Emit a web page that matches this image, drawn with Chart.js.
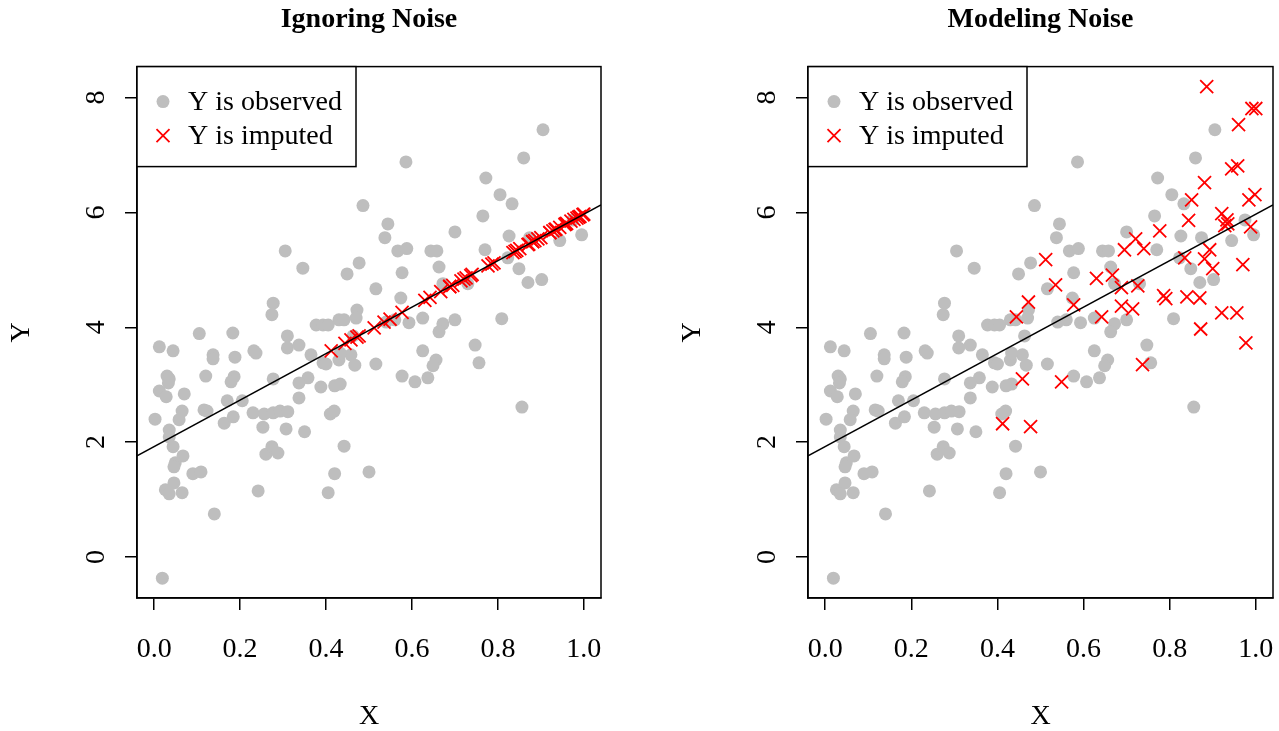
<!DOCTYPE html>
<html>
<head>
<meta charset="utf-8">
<script src="https://cdn.jsdelivr.net/npm/chart.js"></script>
<style>
  html, body { margin: 0; padding: 0; background: #fff; overflow: hidden; }
  #wrap { position: relative; width: 1279px; height: 731px; }
  #left { position: absolute; left: 0; top: 0; }
  #right { position: absolute; left: 671px; top: 0; }
</style>
</head>
<body>
<div id="wrap">
  <canvas id="left" width="640" height="731"></canvas>
  <canvas id="right" width="608" height="731"></canvas>
</div>
<script>
// observed points (same in both panels)
const obsX = [0.002,0.012,0.044,0.105,0.183,0.31,0.31,0.137,0.137,0.188,
  0.232,0.237,0.03,0.035,0.033,0.12,0.186,0.179,0.012,0.028,
  0.07,0.277,0.17,0.205,0.065,0.058,0.116,0.123,0.163,0.184,
  0.23,0.256,0.277,0.293,0.311,0.253,0.307,0.035,0.035,0.044,
  0.067,0.049,0.046,0.09,0.109,0.046,0.026,0.035,0.065,0.26,
  0.274,0.288,0.242,0.14,0.019,0.305,0.277,0.274,0.586,0.486,
  0.544,0.537,0.567,0.588,0.644,0.658,0.346,0.477,0.449,0.577,
  0.663,0.70,0.516,0.574,0.472,0.47,0.43,0.442,0.377,0.393,
  0.405,0.593,0.625,0.672,0.663,0.70,0.905,0.86,0.772,0.805,
  0.833,0.765,0.826,0.77,0.874,0.944,0.995,0.823,0.849,0.87,
  0.902,0.73,0.809,0.337,0.365,0.393,0.40,0.43,0.458,0.467,
  0.516,0.625,0.656,0.649,0.577,0.607,0.637,0.358,0.337,0.388,
  0.42,0.433,0.337,0.41,0.419,0.35,0.442,0.42,0.50,0.405,
  0.747,0.756,0.856,0.463,0.433,0.54,0.56,0.975,0.672];
const obsY = [2.40,3.66,3.59,3.89,3.90,3.85,3.64,3.52,3.45,3.48,
  3.59,3.55,3.15,3.10,3.03,3.15,3.14,3.05,2.89,2.79,
  2.84,3.10,2.72,2.72,2.54,2.39,2.56,2.54,2.33,2.44,
  2.51,2.49,2.51,2.54,2.53,2.26,2.23,2.21,2.09,1.92,
  1.76,1.64,1.57,1.45,1.48,1.29,1.17,1.10,1.12,1.79,
  1.92,1.81,1.15,0.75,-0.37,5.33,4.42,4.22,6.88,6.12,
  5.80,5.56,5.33,5.37,5.33,5.33,5.03,5.12,4.93,4.95,
  5.05,5.66,4.67,4.51,4.30,4.16,4.13,4.13,4.04,4.04,
  4.04,4.08,4.16,4.06,3.92,4.13,7.44,6.95,6.60,6.31,
  6.15,5.94,5.59,5.35,5.56,5.51,5.61,5.21,5.02,4.78,
  4.83,4.76,4.15,3.69,3.52,3.38,3.36,3.43,3.52,3.34,
  3.36,3.59,3.43,3.33,3.15,3.05,3.12,3.12,3.03,2.96,
  2.98,3.01,2.77,2.49,2.54,2.18,1.93,1.45,1.48,1.12,
  3.69,3.38,2.61,3.85,3.55,4.09,4.13,5.87,4.76];

// imputed points: x, then y with noise (right) and y on the fit (left)
const impX = [0.512,0.535,0.472,0.444,0.577,0.63,0.667,0.642,0.886,0.991,
  1.0,0.96,0.944,0.958,0.881,0.851,0.984,0.998,0.844,0.777,
  0.921,0.933,0.935,0.928,0.988,0.721,0.695,0.74,0.893,0.835,
  0.881,0.90,0.97,0.688,0.726,0.786,0.791,0.84,0.87,0.688,
  0.714,0.921,0.956,0.872,0.977,0.737,0.458,0.549,0.412,0.477];
const impYNoise = [5.18,4.74,4.44,4.18,4.39,4.85,4.91,4.18,8.19,7.81,
  7.81,7.53,6.76,6.81,6.52,6.22,6.22,6.31,5.86,5.68,
  5.98,5.87,5.80,5.77,5.75,5.54,5.35,5.37,5.35,5.21,
  5.19,5.02,5.09,4.69,4.72,4.55,4.50,4.53,4.51,4.37,
  4.32,4.25,4.25,3.97,3.73,3.35,3.10,3.05,2.32,2.27];
const impYFit = [3.99,4.09,3.83,3.72,4.26,4.47,4.62,4.52,5.51,5.93,
  5.97,5.81,5.74,5.80,5.49,5.37,5.90,5.96,5.34,5.07,
  5.65,5.70,5.71,5.68,5.92,4.84,4.73,4.92,5.54,5.30,
  5.49,5.56,5.85,4.71,4.86,5.10,5.12,5.32,5.44,4.71,
  4.81,5.65,5.79,5.45,5.88,4.90,3.78,4.14,3.59,3.85];

// regression line, end points at the plot edges
const fitX = [-0.04, 1.04];
const fitY = [1.76, 6.13];

const xTicks = [0, 0.2, 0.4, 0.6, 0.8, 1.0];
const yTicks = [0, 2, 4, 6, 8];
const xRange = [-0.04, 1.04];
const yRange = [-0.715, 8.54];

const serif = '"Liberation Serif", "Times New Roman", serif';

function pts(xs, ys) {
  return xs.map((x, i) => ({ x: x, y: ys[i] }));
}

// box, rotated y tick labels and the boxed legend
const frame = {
  id: 'frame',
  afterDatasetsDraw(chart) {
    const ctx = chart.ctx;
    const a = chart.chartArea;
    const ys = chart.scales.y;
    ctx.save();
    ctx.strokeStyle = '#000';
    ctx.lineWidth = 1.5;
    ctx.strokeRect(a.left, a.top, a.right - a.left, a.bottom - a.top);

    ctx.fillStyle = '#000';
    ctx.font = '28px ' + serif;
    ctx.textAlign = 'center';
    ctx.textBaseline = 'middle';
    yTicks.forEach(v => {
      ctx.save();
      ctx.translate(a.left - 40, ys.getPixelForValue(v));
      ctx.rotate(-Math.PI / 2);
      ctx.fillText(String(v), 0, 0);
      ctx.restore();
    });

    // legend
    const L = a.left, T = a.top;
    ctx.fillStyle = '#fff';
    ctx.fillRect(L, T, 219, 100);
    ctx.strokeRect(L, T, 219, 100);
    const items = chart.data.datasets.filter(d => d.label);
    items.forEach((d, i) => {
      const cx = L + 26, cy = T + 35 + 34 * i;
      if (d.pointStyle === 'crossRot') {
        const h = d.pointRadius * Math.SQRT1_2;
        ctx.strokeStyle = d.borderColor;
        ctx.lineWidth = d.borderWidth;
        ctx.beginPath();
        ctx.moveTo(cx - h, cy - h); ctx.lineTo(cx + h, cy + h);
        ctx.moveTo(cx - h, cy + h); ctx.lineTo(cx + h, cy - h);
        ctx.stroke();
      } else {
        ctx.fillStyle = d.backgroundColor;
        ctx.beginPath();
        ctx.arc(cx, cy, d.pointRadius, 0, Math.PI * 2);
        ctx.fill();
      }
      ctx.fillStyle = '#000';
      ctx.textAlign = 'left';
      ctx.fillText(d.label, L + 51, cy + 1.5);
    });
    ctx.restore();
  }
};

function makeChart(id, title, impY, padRight) {
  return new Chart(document.getElementById(id), {
    type: 'scatter',
    data: {
      datasets: [
        {
          type: 'line',
          data: pts(fitX, fitY),
          borderColor: '#000',
          borderWidth: 1.5,
          pointRadius: 0,
          order: 0
        },
        {
          label: 'Y is observed',
          data: pts(obsX, obsY),
          backgroundColor: '#BEBEBE',
          borderWidth: 0,
          pointRadius: 6.5,
          pointStyle: 'circle',
          order: 2
        },
        {
          label: 'Y is imputed',
          data: pts(impX, impY),
          borderColor: '#FF0000',
          backgroundColor: '#FF0000',
          borderWidth: 1.8,
          pointRadius: 9.2,
          pointStyle: 'crossRot',
          order: 1
        }
      ]
    },
    options: {
      responsive: false,
      animation: false,
      events: [],
      layout: { autoPadding: false, padding: { left: 0, right: padRight, top: 0, bottom: 0 } },
      plugins: {
        legend: { display: false },
        tooltip: { enabled: false },
        title: {
          display: true,
          text: title,
          fullSize: false,
          color: '#000',
          font: { family: serif, size: 28, weight: 'bold' },
          padding: { top: 3, bottom: 30 }
        }
      },
      scales: {
        x: {
          type: 'linear',
          min: xRange[0],
          max: xRange[1],
          afterBuildTicks: s => { s.ticks = xTicks.map(v => ({ value: v })); },
          afterFit: s => { s.height = 133; s.paddingLeft = 0; s.paddingRight = 0; },
          ticks: {
            color: '#000',
            font: { family: serif, size: 28 },
            padding: 23,
            maxRotation: 0,
            callback: v => v.toFixed(1)
          },
          grid: { drawOnChartArea: false, drawTicks: true, tickLength: 12, color: '#000', lineWidth: 1.5 },
          border: { display: true, color: '#000', width: 1.5 },
          title: {
            display: true,
            text: 'X',
            color: '#000',
            font: { family: serif, size: 28, lineHeight: 1 },
            padding: { top: 0, bottom: 0 }
          }
        },
        y: {
          type: 'linear',
          min: yRange[0],
          max: yRange[1],
          afterBuildTicks: s => { s.ticks = yTicks.map(v => ({ value: v })); },
          afterFit: s => { s.width = 137; },
          ticks: { display: false },
          grid: { drawOnChartArea: false, drawTicks: true, tickLength: 12, color: '#000', lineWidth: 1.5 },
          border: { display: true, color: '#000', width: 1.5 },
          title: {
            display: true,
            text: 'Y',
            color: '#000',
            font: { family: serif, size: 28, lineHeight: 1 },
            padding: { top: 8, bottom: 0 }
          }
        }
      }
    },
    plugins: [frame]
  });
}

makeChart('left', 'Ignoring Noise', impYFit, 39);
makeChart('right', 'Modeling Noise', impYNoise, 6);
</script>
</body>
</html>
